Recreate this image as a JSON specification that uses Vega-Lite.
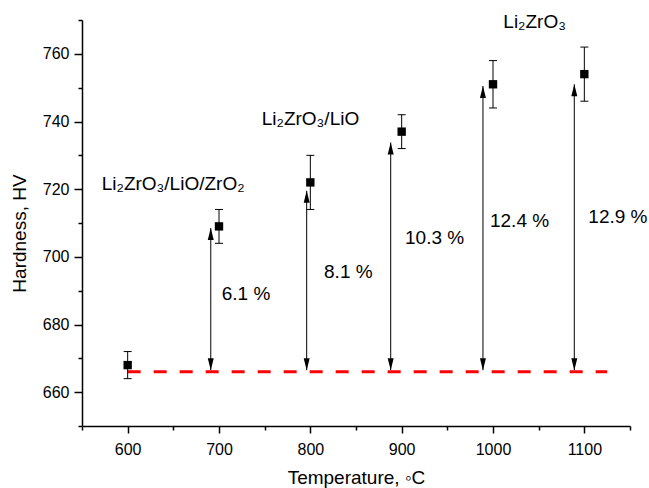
{
  "$schema": "https://vega.github.io/schema/vega-lite/v6.json",
  "width": 548,
  "height": 406,
  "autosize": {"type": "none"},
  "padding": {"left": 82, "top": 20, "right": 19, "bottom": 62},
  "config": {
    "view": {"stroke": null},
    "font": "Liberation Sans",
    "axis": {"grid": false, "domainColor": "#000", "tickColor": "#000", "labelColor": "#000", "titleColor": "#000", "labelFont": "Liberation Sans", "titleFont": "Liberation Sans", "titleFontWeight": "normal", "labelFontSize": 16, "titleFontSize": 19, "domainWidth": 1.5, "tickWidth": 1.5}
  },
  "datasets": {
    "points": [
      {"T": 600, "HV": 668, "lo": 664, "hi": 672},
      {"T": 700, "HV": 709, "lo": 704, "hi": 714},
      {"T": 800, "HV": 722, "lo": 714, "hi": 730},
      {"T": 900, "HV": 737, "lo": 732, "hi": 742},
      {"T": 1000, "HV": 751, "lo": 744, "hi": 758},
      {"T": 1100, "HV": 754, "lo": 746, "hi": 762}
    ],
    "baseline": [{"T": 600, "T2": 1125, "HV": 666}],
    "arrows": [
      {"T": 691, "lo": 666.5, "hi": 708.5},
      {"T": 796, "lo": 666.5, "hi": 719.5},
      {"T": 888, "lo": 666.5, "hi": 733.8},
      {"T": 989, "lo": 666.5, "hi": 750.5},
      {"T": 1089, "lo": 666.5, "hi": 751}
    ],
    "labels": [
      {"T": 571.6, "HV": 719.7, "text": "Li₂ZrO₃/LiO/ZrO₂"},
      {"T": 746.8, "HV": 739.0, "text": "Li₂ZrO₃/LiO"},
      {"T": 1011.3, "HV": 767.6, "text": "Li₂ZrO₃"},
      {"T": 703, "HV": 687.2, "text": "6.1 %"},
      {"T": 815, "HV": 693.7, "text": "8.1 %"},
      {"T": 903.7, "HV": 703.8, "text": "10.3 %"},
      {"T": 996.7, "HV": 708.9, "text": "12.4 %"},
      {"T": 1104.4, "HV": 710, "text": "12.9 %"}
    ]
  },
  "resolve": {"axis": {"x": "independent", "y": "independent"}},
  "layer": [
    {
      "data": {"name": "baseline"},
      "mark": {"type": "rule", "color": "#ff0000", "strokeWidth": 3, "strokeDash": [13, 13]},
      "encoding": {
        "x": {"field": "T", "type": "quantitative", "scale": {"domain": [550, 1150], "nice": false, "zero": false},
              "axis": {"orient": "bottom", "values": [550, 650, 750, 850, 950, 1050, 1150], "labels": false, "domain": false, "tickSize": 4, "title": null}},
        "x2": {"field": "T2"},
        "y": {"field": "HV", "type": "quantitative", "scale": {"domain": [650, 770], "nice": false, "zero": false},
              "axis": {"orient": "left", "values": [650, 670, 690, 710, 730, 750, 770], "labels": false, "domain": false, "tickSize": 4, "title": null}}
      }
    },
    {
      "data": {"name": "arrows"},
      "mark": {"type": "rule", "color": "#000", "strokeWidth": 1},
      "encoding": {
        "x": {"field": "T", "type": "quantitative", "axis": null},
        "y": {"field": "lo", "type": "quantitative", "axis": null},
        "y2": {"field": "hi"}
      }
    },
    {
      "data": {"name": "arrows"},
      "mark": {"type": "point", "shape": "M0,0L-0.5,2L0.5,2Z", "size": 144, "filled": true, "color": "#000", "opacity": 1, "strokeWidth": 0},
      "encoding": {
        "x": {"field": "T", "type": "quantitative", "axis": null},
        "y": {"field": "hi", "type": "quantitative", "axis": null}
      }
    },
    {
      "data": {"name": "arrows"},
      "mark": {"type": "point", "shape": "M0,0L-0.5,-2L0.5,-2Z", "size": 144, "filled": true, "color": "#000", "opacity": 1, "strokeWidth": 0},
      "encoding": {
        "x": {"field": "T", "type": "quantitative", "axis": null},
        "y": {"field": "lo", "type": "quantitative", "axis": null}
      }
    },
    {
      "data": {"name": "points"},
      "mark": {"type": "rule", "color": "#000", "strokeWidth": 1},
      "encoding": {
        "x": {"field": "T", "type": "quantitative", "axis": null},
        "y": {"field": "lo", "type": "quantitative", "axis": null},
        "y2": {"field": "hi"}
      }
    },
    {
      "data": {"name": "points"},
      "mark": {"type": "tick", "orient": "horizontal", "size": 8, "thickness": 1, "color": "#000", "opacity": 1},
      "encoding": {
        "x": {"field": "T", "type": "quantitative", "axis": null},
        "y": {"field": "lo", "type": "quantitative", "axis": null}
      }
    },
    {
      "data": {"name": "points"},
      "mark": {"type": "tick", "orient": "horizontal", "size": 8, "thickness": 1, "color": "#000", "opacity": 1},
      "encoding": {
        "x": {"field": "T", "type": "quantitative", "axis": null},
        "y": {"field": "hi", "type": "quantitative", "axis": null}
      }
    },
    {
      "data": {"name": "points"},
      "mark": {"type": "point", "shape": "square", "size": 70, "filled": true, "color": "#000", "opacity": 1, "strokeWidth": 0},
      "encoding": {
        "x": {"field": "T", "type": "quantitative",
              "axis": {"orient": "bottom", "values": [600, 700, 800, 900, 1000, 1100], "format": "d", "tickSize": 7, "labelPadding": 8, "title": "Temperature, ◦C", "titlePadding": 11}},
        "y": {"field": "HV", "type": "quantitative",
              "axis": {"orient": "left", "values": [660, 680, 700, 720, 740, 760], "tickSize": 8, "labelPadding": 5, "title": "Hardness, HV", "titlePadding": 13, "titleY": 213}}
      }
    },
    {
      "data": {"name": "labels"},
      "mark": {"type": "text", "align": "left", "baseline": "alphabetic", "fontSize": 19, "color": "#000", "font": "Liberation Sans"},
      "encoding": {
        "x": {"field": "T", "type": "quantitative", "axis": null},
        "y": {"field": "HV", "type": "quantitative", "axis": null},
        "text": {"field": "text"}
      }
    }
  ]
}
